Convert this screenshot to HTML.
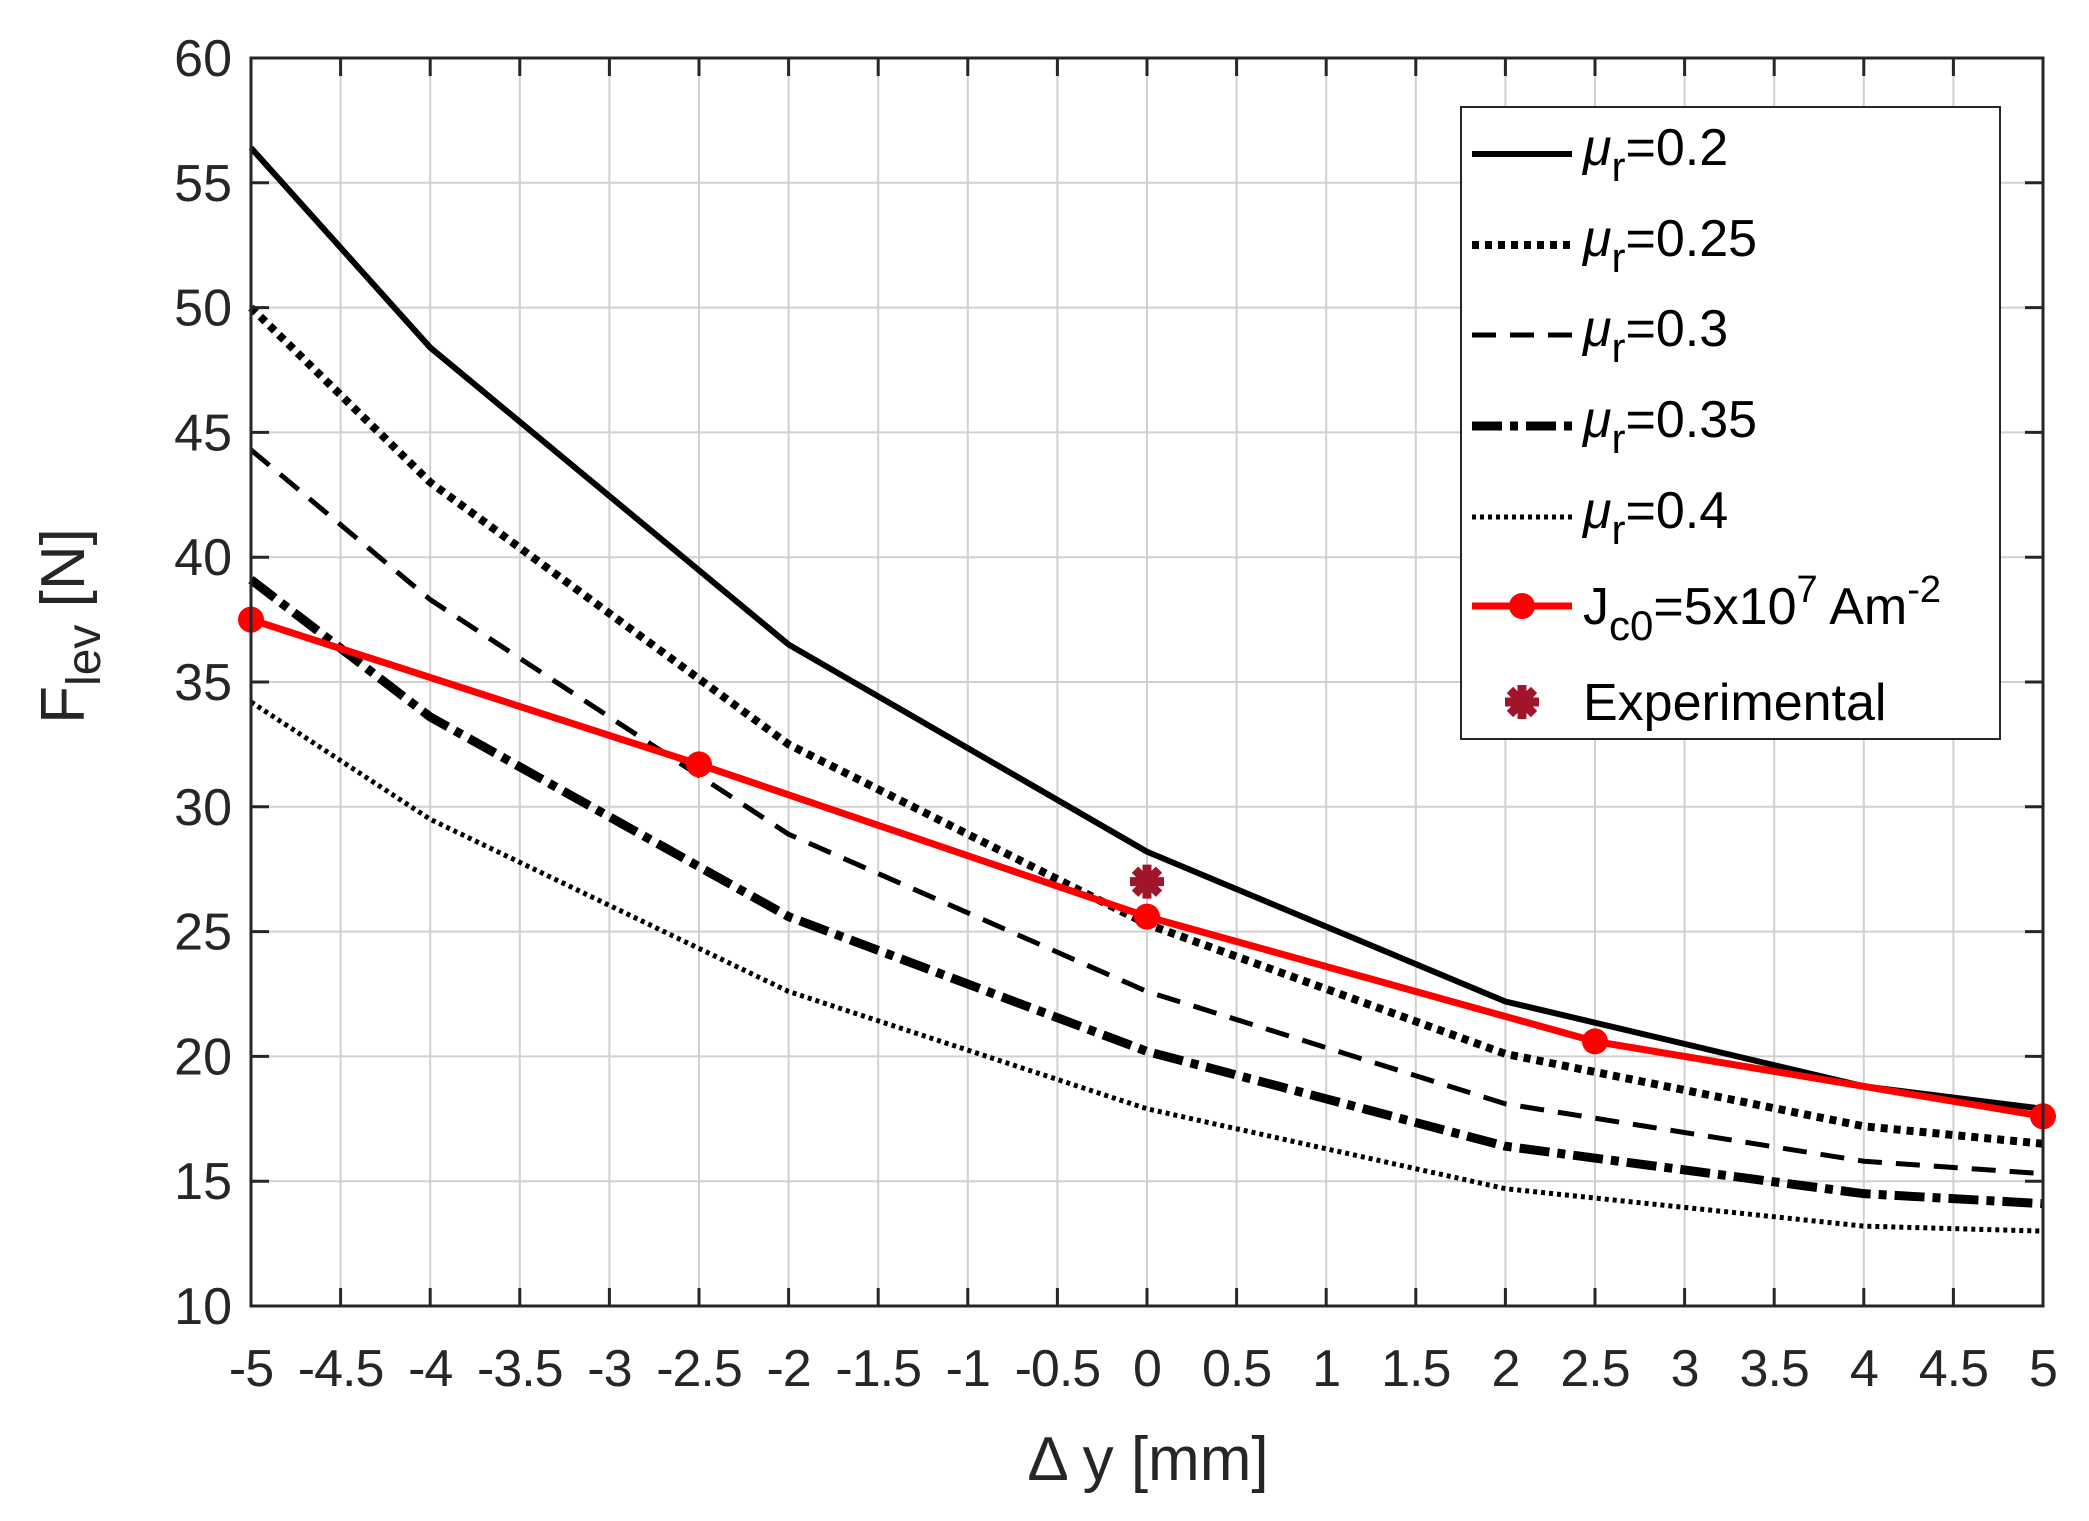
<!DOCTYPE html>
<html><head><meta charset="utf-8"><style>
html,body{margin:0;padding:0;background:#fff;}
svg{display:block;font-family:"Liberation Sans",Arial,sans-serif;}
</style></head><body>
<svg id="chart" width="2089" height="1521" viewBox="0 0 2089 1521">
<g id="grid"></g>
<g id="series"></g>
<rect x="251" y="58" width="1792" height="1248" fill="none" stroke="#262626" stroke-width="3"/>
<g id="ticks"></g>
<text x="1148" y="1480" font-size="62" text-anchor="middle" fill="#262626">Δ y [mm]</text>
<text transform="translate(84,626) rotate(-90)" font-size="62" text-anchor="middle" fill="#262626">F<tspan font-size="48" dy="16">lev</tspan><tspan dy="-16"> [N]</tspan></text>
<g id="legend">
<rect x="1461" y="107" width="539" height="632" fill="#fff" stroke="#262626" stroke-width="2"/>
</g>
</svg>
<script>
const xCats=[-5,-4,-2,0,2,4,5];
const mu02=[56.4,48.4,36.5,28.2,22.2,18.8,17.9];
const mu025=[50,43,32.5,25.3,20.1,17.2,16.5];
const mu03=[44.3,38.3,28.9,22.6,18.1,15.8,15.3];
const mu035=[39.1,33.6,25.6,20.2,16.4,14.5,14.1];
const mu04=[34.2,29.5,22.6,17.9,14.7,13.2,13.0];
const jcX=[-5,-2.5,0,2.5,5];
const jcY=[37.5,31.7,25.6,20.6,17.6];
const expX=[0];
const expY=[27.0];
const xTicks=[-5,-4.5,-4,-3.5,-3,-2.5,-2,-1.5,-1,-0.5,0,0.5,1,1.5,2,2.5,3,3.5,4,4.5,5];
const yTicks=[10,15,20,25,30,35,40,45,50,55,60];

const NS="http://www.w3.org/2000/svg";
const L=251,R=2043,T=58,B=1306;
const sx=v=>L+(v+5)/10*(R-L);
const sy=v=>B-(v-10)/50*(B-T);
function mk(tag,attrs,parent){const e=document.createElementNS(NS,tag);for(const k in attrs)e.setAttribute(k,attrs[k]);parent.appendChild(e);return e;}
const grid=document.getElementById('grid'),ticks=document.getElementById('ticks'),ser=document.getElementById('series'),leg=document.getElementById('legend');
xTicks.forEach(v=>{
 const g=mk('line',{x1:sx(v),x2:sx(v),y1:T,y2:B,stroke:'#d0d0d0','stroke-width':2},grid);
 
 
 const t=mk('line',{x1:sx(v),x2:sx(v),y1:B,y2:B-18,stroke:'#262626','stroke-width':3},ticks);
 
 
 const t2=mk('line',{x1:sx(v),x2:sx(v),y1:T,y2:T+18,stroke:'#262626','stroke-width':3},ticks);
 
 
 const lb=mk('text',{x:sx(v),y:1386,'font-size':52,'text-anchor':'middle',fill:'#262626','letter-spacing':-1},ticks);
 lb.textContent=String(v);
 
 
});
yTicks.forEach(v=>{
 const g=mk('line',{x1:L,x2:R,y1:sy(v),y2:sy(v),stroke:'#d0d0d0','stroke-width':2},grid);
 
 
 const t=mk('line',{x1:L,x2:L+18,y1:sy(v),y2:sy(v),stroke:'#262626','stroke-width':3},ticks);
 
 
 const t2=mk('line',{x1:R,x2:R-18,y1:sy(v),y2:sy(v),stroke:'#262626','stroke-width':3},ticks);
 
 
 const lb=mk('text',{x:232,y:sy(v)+18,'font-size':52,'text-anchor':'end',fill:'#262626'},ticks);
 lb.textContent=String(v);
 
 
});
const styles=[
 {d:mu02,w:6,da:'',lab:'0.2',n:'series-mu-0-2'},
 {d:mu025,w:8,da:'7 6',lab:'0.25',n:'series-mu-0-25'},
 {d:mu03,w:5,da:'24 14',lab:'0.3',n:'series-mu-0-3'},
 {d:mu035,w:9,da:'30 8 8 8',lab:'0.35',n:'series-mu-0-35'},
 {d:mu04,w:5,da:'4 4',lab:'0.4',n:'series-mu-0-4'}
];
const legY=[149,240,330,421,512,606,702];
styles.forEach((s,i)=>{
 const pts=s.d.map((v,j)=>sx(xCats[j])+','+sy(v)).join(' ');
 const p=mk('polyline',{points:pts,fill:'none',stroke:'#000','stroke-width':s.w,'stroke-dasharray':s.da},ser);
 
 
 const ll=mk('line',{x1:1472,x2:1572,y1:legY[i]+5,y2:legY[i]+5,stroke:'#000','stroke-width':s.w,'stroke-dasharray':s.da},leg);
 
 
 const tx=mk('text',{x:1583,y:legY[i]+16,'font-size':52,fill:'#000'},leg);
 tx.innerHTML='<tspan font-style="italic">μ</tspan><tspan font-size="42" dy="16">r</tspan><tspan dy="-16">='+s.lab+'</tspan>';
 
 
});
const rp=mk('polyline',{points:jcX.map((x,j)=>sx(x)+','+sy(jcY[j])).join(' '),fill:'none',stroke:'#f00','stroke-width':7},ser);


jcX.forEach((x,j)=>{
 const c=mk('circle',{cx:sx(x),cy:sy(jcY[j]),r:13,fill:'#f00'},ser);
 
 
});
function star(cx,cy,parent){
 const g=mk('g',{},parent);
 for(let a=0;a<4;a++){const ang=a*Math.PI/4;mk('line',{x1:cx-17*Math.cos(ang),y1:cy-17*Math.sin(ang),x2:cx+17*Math.cos(ang),y2:cy+17*Math.sin(ang),stroke:'#a0142c','stroke-width':9},g);}
 mk('circle',{cx:cx,cy:cy,r:11,fill:'#a0142c'},g);
 return g;
}
expX.forEach((x,j)=>{
 const s=star(sx(x),sy(expY[j]),ser);
 
 
});
const rl=mk('line',{x1:1472,x2:1572,y1:legY[5],y2:legY[5],stroke:'#f00','stroke-width':7},leg);


const rc=mk('circle',{cx:1522,cy:legY[5],r:13,fill:'#f00'},leg);


const jt=mk('text',{x:1583,y:legY[5]+18,'font-size':52,fill:'#000'},leg);
jt.innerHTML='J<tspan font-size="42" dy="16">c0</tspan><tspan dy="-16">=5x10</tspan><tspan font-size="38" dy="-22">7</tspan><tspan dy="22"> Am</tspan><tspan font-size="38" dy="-22">-2</tspan>';


const ls=star(1522,legY[6],leg);


const et=mk('text',{x:1583,y:legY[6]+18,'font-size':52,fill:'#000'},leg);
et.textContent='Experimental';


</script>
</body></html>
